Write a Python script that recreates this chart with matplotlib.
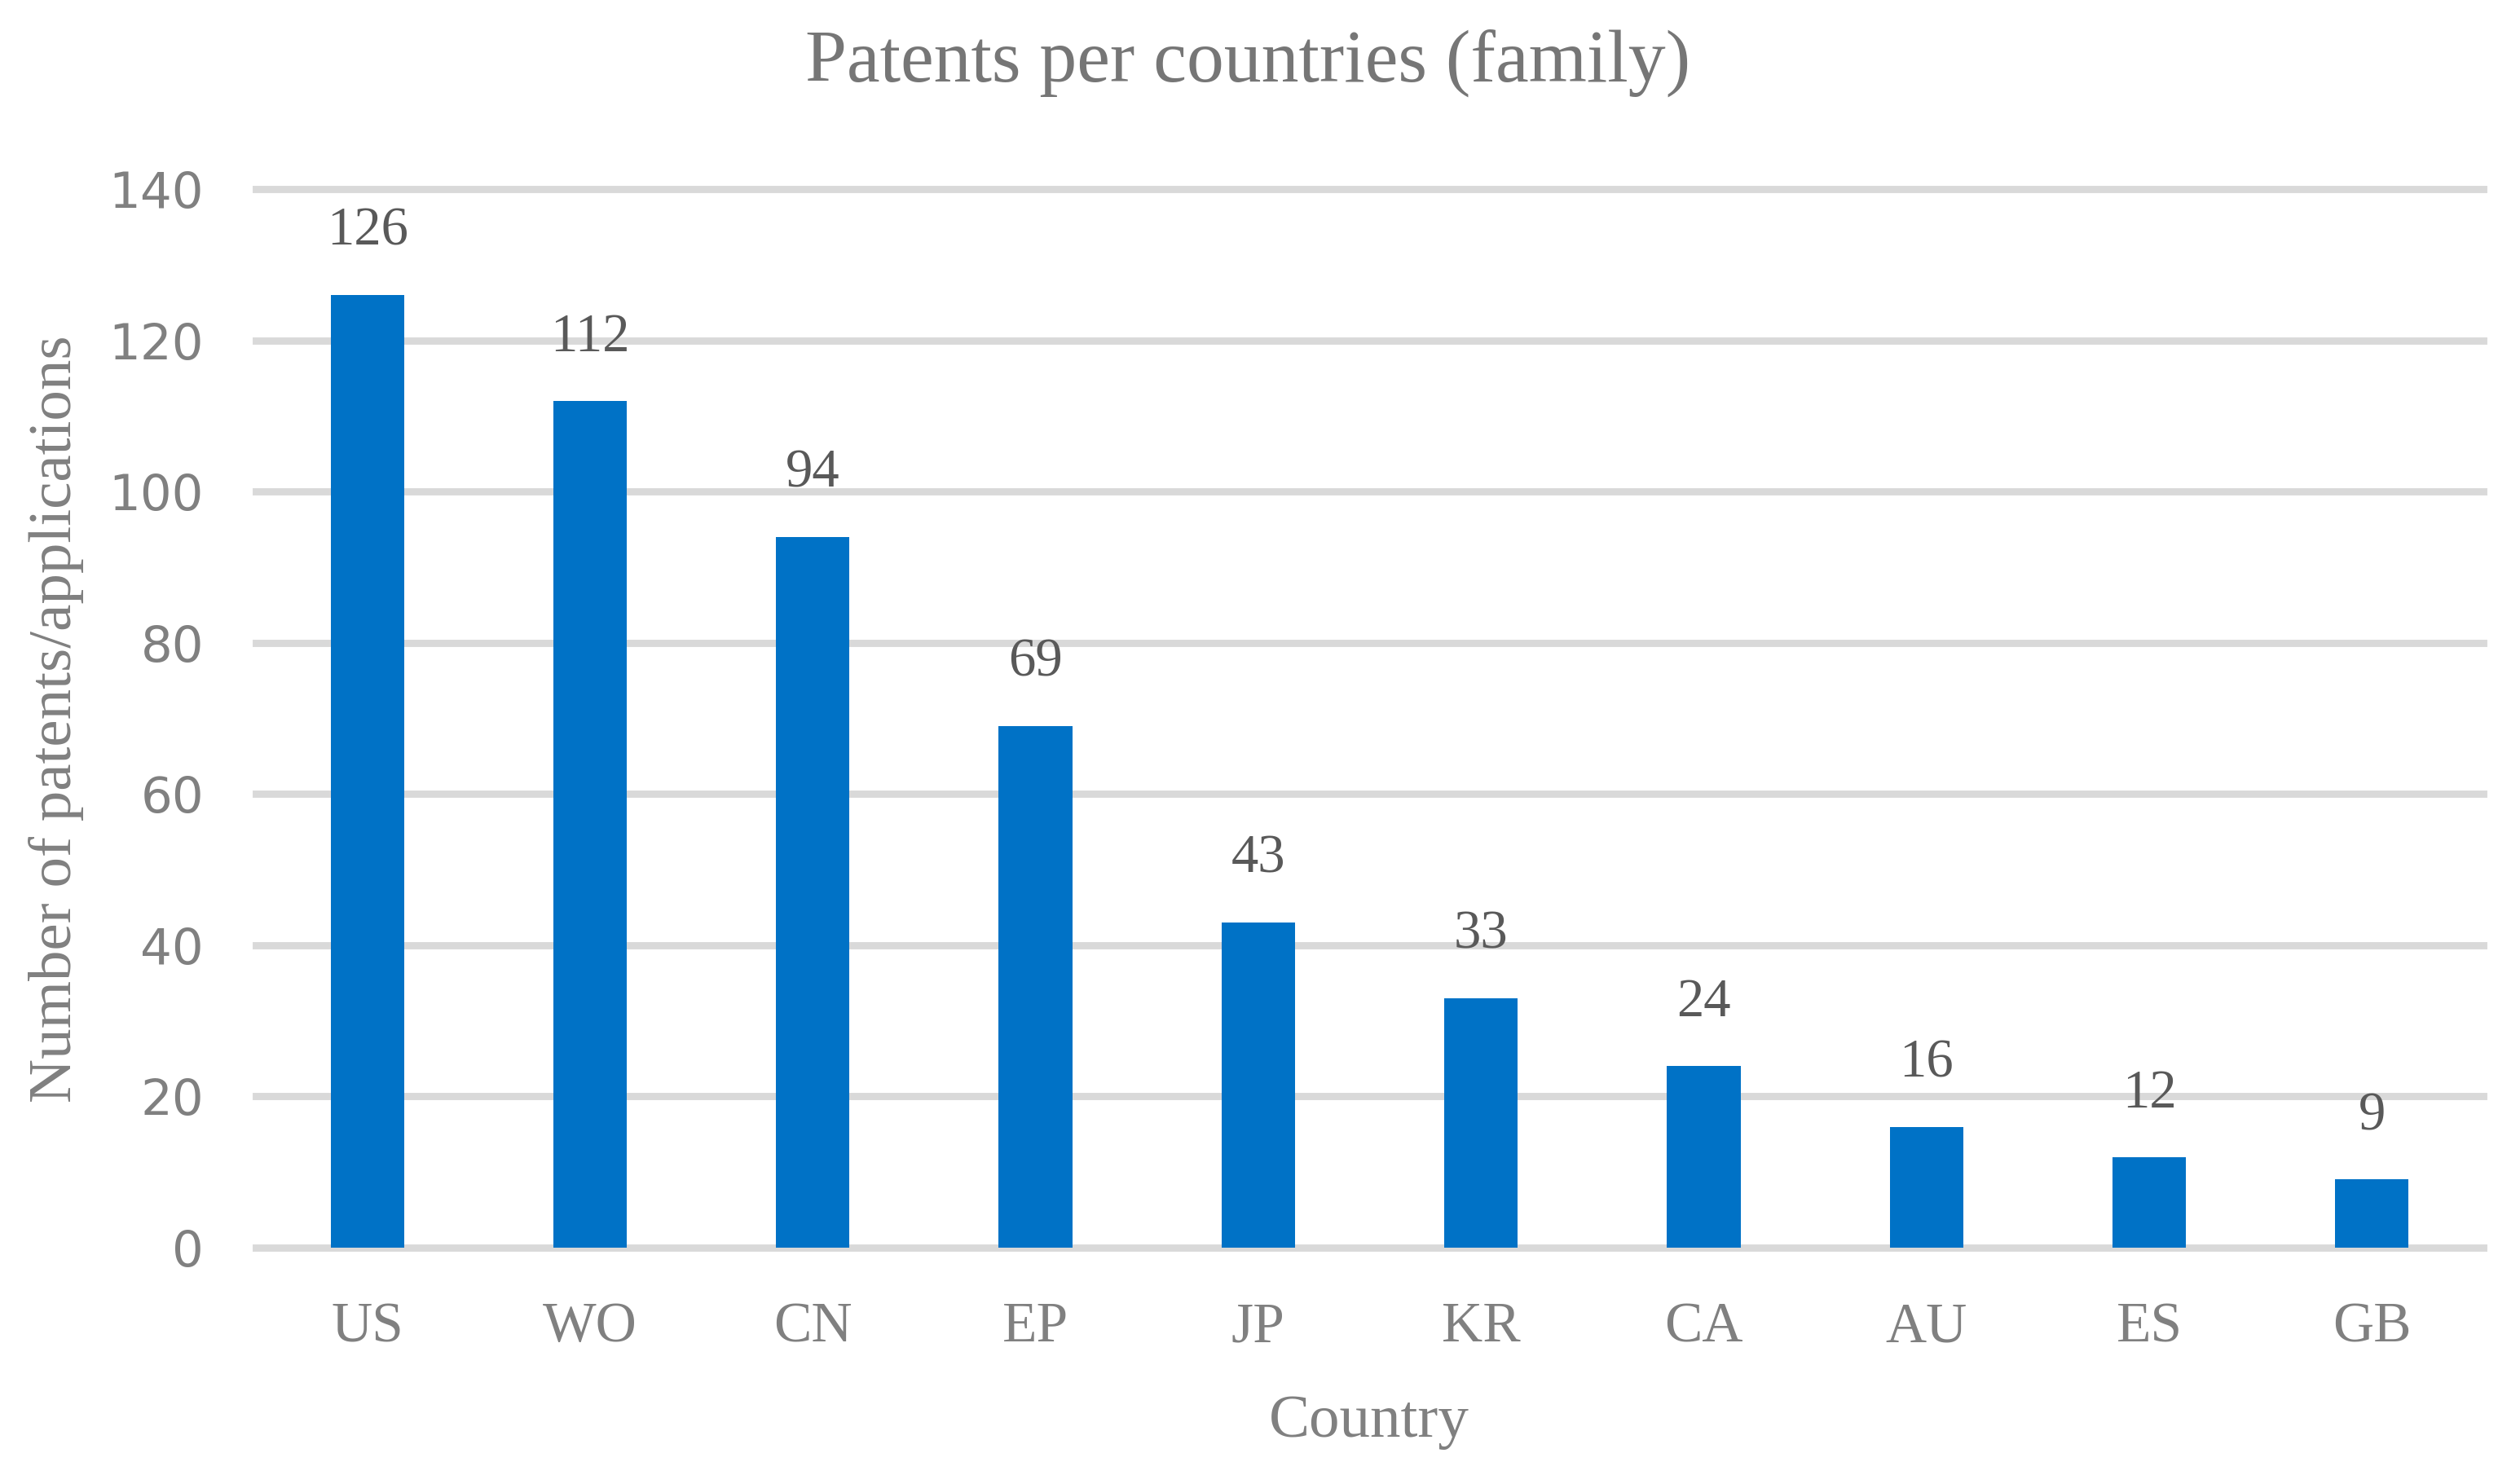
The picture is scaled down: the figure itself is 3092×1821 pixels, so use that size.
import matplotlib
matplotlib.use("Agg")
import matplotlib.pyplot as plt

# Data
countries = ["US", "WO", "CN", "EP", "JP", "KR", "CA", "AU", "ES", "GB"]
patents = [126, 112, 94, 69, 43, 33, 24, 16, 12, 9]
y_ticks = [0, 20, 40, 60, 80, 100, 120, 140]

W, H, DPI = 3092, 1821, 200
serif = "Liberation Serif"
sans = "DejaVu Sans"

fig = plt.figure(figsize=(W / DPI, H / DPI), dpi=DPI)
ax = fig.add_axes([314 / W, 1 - 1531 / H, (3047 - 314) / W, (1531 - 232) / H])

x = range(len(countries))
ax.bar(x, patents, width=0.33, color="#0072C6", zorder=3)
ax.set_xlim(-0.5, len(countries) - 0.5)
ax.set_ylim(0, 140)

ax.set_yticks(y_ticks)
ax.set_yticklabels([str(t) for t in y_ticks], fontfamily=sans, fontsize=22, color="#808080")
ax.set_xticks(list(x))
ax.set_xticklabels(countries, fontfamily=serif, fontsize=25, color="#808080")
ax.tick_params(axis="both", length=0)
ax.tick_params(axis="y", pad=23)
ax.tick_params(axis="x", pad=24)

ax.grid(axis="y", color="#D9D9D9", linewidth=3.2, zorder=0)
for gl in ax.get_ygridlines():
    gl.set_clip_on(False)
for s in ax.spines.values():
    s.set_visible(False)

# value labels
for xi, v in zip(x, patents):
    ax.annotate(str(v), (xi, v), xytext=(0, 22), textcoords="offset points",
                ha="center", va="baseline", fontfamily=serif, fontsize=24, color="#595959")

fig.text(1531 / W, 1 - 100 / H, "Patents per countries (family)", ha="center", va="baseline",
         fontfamily=serif, fontsize=33, color="#767676")
fig.text(1680 / W, 1 - 1763 / H, "Country", ha="center", va="baseline",
         fontfamily=serif, fontsize=27, color="#808080")
fig.text(69 / W, 1 - 882 / H, "Number of patents/applications", ha="center", va="center",
         rotation=90, fontfamily=serif, fontsize=27, color="#808080")

fig.savefig("out.png", dpi=DPI)
plt.close(fig)
